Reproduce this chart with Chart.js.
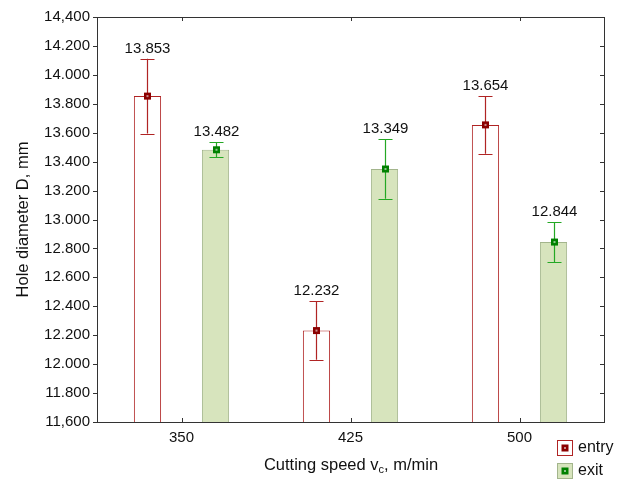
<!DOCTYPE html>
<html>
<head>
<meta charset="utf-8">
<script src="https://cdn.jsdelivr.net/npm/chart.js@4.4.0/dist/chart.umd.min.js"></script>
<style>
  html, body { margin: 0; padding: 0; background: #fff; }
  #wrap { width: 627px; height: 480px; position: relative; }
</style>
</head>
<body>
<div id="wrap"><canvas id="chart"></canvas></div>
<script>
// ----------------------
// DATA
// ----------------------
const speeds = ["350", "425", "500"];
const entryMeans = [13.853, 12.232, 13.654];
const entryErr = [0.259, 0.202, 0.200];
const exitMeans = [13.482, 13.349, 12.844];
const exitErr = [0.052, 0.206, 0.137];
const yMin = 11.6;
const yMax = 14.4;
const yStep = 0.2;

const FONT = "'Liberation Sans', Arial, sans-serif";
const RED = "#b02424";
const GREEN = "#24a824";

// ----------------------
// PLUGIN: frame, ticks, error bars, labels, titles, legend
// ----------------------
const extras = {
    id: "extras",
    afterDatasetsDraw(chart) {
        const ctx = chart.ctx;
        const a = chart.chartArea;
        const y = chart.scales.y;
        const x = chart.scales.x;
        const errs = [entryErr, exitErr];
        const cols = [RED, GREEN];

        ctx.save();
        // error bars + markers + value labels
        chart.data.datasets.forEach((ds, di) => {
            const meta = chart.getDatasetMeta(di);
            meta.data.forEach((bar, i) => {
                const v = ds.data[i];
                const e = errs[di][i];
                const cx = Math.round(bar.x) + 0.5;
                const yTop = y.getPixelForValue(v + e);
                const yBot = y.getPixelForValue(v - e);
                const yv = y.getPixelForValue(v);
                ctx.strokeStyle = cols[di];
                ctx.lineWidth = 1.2;
                ctx.beginPath();
                ctx.moveTo(cx, yTop); ctx.lineTo(cx, yBot);
                ctx.moveTo(cx - 7, Math.round(yTop) + 0.5); ctx.lineTo(cx + 7, Math.round(yTop) + 0.5);
                ctx.moveTo(cx - 7, Math.round(yBot) + 0.5); ctx.lineTo(cx + 7, Math.round(yBot) + 0.5);
                ctx.stroke();
                drawMarker(ctx, cx, yv, di === 0 ? "#8b0000" : "#008000");
                ctx.fillStyle = "#111";
                ctx.font = "15px " + FONT;
                ctx.textAlign = "center";
                ctx.textBaseline = "alphabetic";
                ctx.fillText(v.toFixed(3), cx, yTop - 6);
            });
        });

        // frame
        ctx.strokeStyle = "#333";
        ctx.lineWidth = 1;
        ctx.strokeRect(Math.round(a.left) + 0.5, Math.round(a.top) + 0.5,
            Math.round(a.right - a.left), Math.round(a.bottom - a.top));

        // ticks: left outward, right inward, top/bottom inward
        ctx.beginPath();
        y.ticks.forEach(t => {
            const py = Math.round(y.getPixelForValue(t.value)) + 0.5;
            ctx.moveTo(a.left - 4, py); ctx.lineTo(a.left, py);
            ctx.moveTo(a.right - 4, py); ctx.lineTo(a.right, py);
        });
        speeds.forEach((s, i) => {
            const px = Math.round(x.getPixelForValue(i)) + 0.5;
            ctx.moveTo(px, a.bottom); ctx.lineTo(px, a.bottom - 4);
            ctx.moveTo(px, a.top); ctx.lineTo(px, a.top + 4);
        });
        ctx.stroke();

        // y title
        ctx.fillStyle = "#111";
        ctx.font = "16.5px " + FONT;
        ctx.textAlign = "center";
        ctx.textBaseline = "middle";
        ctx.save();
        ctx.translate(23, (a.top + a.bottom) / 2);
        ctx.rotate(-Math.PI / 2);
        ctx.fillText("Hole diameter D, mm", 0, 0);
        ctx.restore();

        // x title with subscript
        const p1 = "Cutting speed v";
        const sub = "c";
        const p2 = ", m/min";
        ctx.font = "16.5px " + FONT;
        const w1 = ctx.measureText(p1).width;
        const w3 = ctx.measureText(p2).width;
        ctx.font = "11px " + FONT;
        const w2 = ctx.measureText(sub).width;
        const sx = 351 - (w1 + w2 + w3) / 2;
        const base = 470;
        ctx.textAlign = "left";
        ctx.textBaseline = "alphabetic";
        ctx.font = "16.5px " + FONT;
        ctx.fillText(p1, sx, base);
        ctx.font = "11px " + FONT;
        ctx.fillText(sub, sx + w1, base + 3);
        ctx.font = "16.5px " + FONT;
        ctx.fillText(p2, sx + w1 + w2, base);

        // legend
        drawLegendBox(ctx, 557, 440, "#fff", RED, "#8b0000");
        drawLegendBox(ctx, 557, 463, "#d7e4bd", "#a3b58c", "#008000");
        ctx.fillStyle = "#111";
        ctx.font = "16px " + FONT;
        ctx.textBaseline = "middle";
        ctx.fillText("entry", 578, 448);
        ctx.fillText("exit", 578, 471);
        ctx.restore();
    }
};

function drawMarker(ctx, cx, cy, color) {
    ctx.fillStyle = color;
    ctx.fillRect(cx - 3.5, cy - 3.5, 7, 7);
    ctx.fillStyle = "rgba(255,255,255,0.55)";
    ctx.fillRect(cx - 1, cy - 1, 2, 2);
}

function drawLegendBox(ctx, bx, by, fill, stroke, mark) {
    ctx.fillStyle = fill;
    ctx.fillRect(bx, by, 15, 15);
    ctx.strokeStyle = stroke;
    ctx.lineWidth = 1;
    ctx.strokeRect(bx + 0.5, by + 0.5, 15, 15);
    drawMarker(ctx, bx + 8, by + 8, mark);
}

// ----------------------
// CHART
// ----------------------
new Chart(document.getElementById("chart"), {
    type: "bar",
    data: {
        labels: speeds,
        datasets: [
            {
                label: "entry",
                data: entryMeans,
                backgroundColor: "#ffffff",
                borderColor: RED,
                borderWidth: 1,
                borderSkipped: false
            },
            {
                label: "exit",
                data: exitMeans,
                backgroundColor: "#d7e4bd",
                borderColor: "#a3b58c",
                borderWidth: 1,
                borderSkipped: false
            }
        ]
    },
    options: {
        responsive: true,
        maintainAspectRatio: false,
        animation: false,
        events: [],
        layout: { padding: { top: 17, right: 23, left: 0, bottom: 0 } },
        categoryPercentage: 0.805,
        barPercentage: 0.4,
        plugins: {
            legend: { display: false },
            tooltip: { enabled: false }
        },
        scales: {
            x: {
                grid: { display: false, drawTicks: false, tickLength: 0 },
                border: { display: false },
                ticks: {
                    color: "#111",
                    font: { family: FONT, size: 15 },
                    padding: 7,
                    maxRotation: 0
                },
                afterFit: s => { s.height = 58; }
            },
            y: {
                min: yMin,
                max: yMax,
                grid: { display: false, drawTicks: false, tickLength: 0 },
                border: { display: false },
                ticks: {
                    stepSize: yStep,
                    color: "#111",
                    font: { family: FONT, size: 15 },
                    padding: 7,
                    callback: (v, i, arr) => {
                        const s = Number(v).toFixed(3);
                        return (i === 0 || i === arr.length - 1) ? s.replace(".", ",") : s;
                    }
                },
                afterFit: s => { s.width = 97; }
            }
        }
    },
    plugins: [extras]
});
</script>
</body>
</html>
